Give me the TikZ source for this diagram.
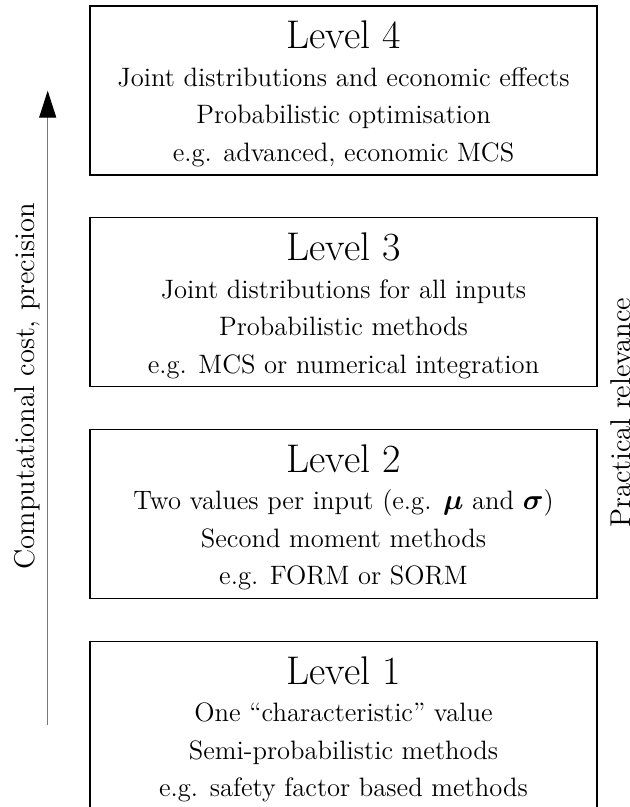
\documentclass[tikz,border=0pt]{standalone}
\usepackage{bm}
\usetikzlibrary{arrows.meta}
\definecolor{arrowgray}{RGB}{120,120,120}
\begin{document}
\begin{tikzpicture}[x=0.5pt,y=-0.5pt,
  levelbox/.style={draw=black, line width=0.6pt, minimum width=253.5pt, minimum height=84.5pt, inner sep=0pt},
  titletext/.style={anchor=base, font=\fontsize{20}{24}\selectfont, inner sep=0pt},
  bodytext/.style={anchor=base, font=\fontsize{13.3}{16}\selectfont, inner sep=0pt},
  sidetext/.style={rotate=90, font=\fontsize{14.3}{17}\selectfont, inner sep=0pt},
  axisarrow/.style={draw=arrowgray, line width=0.65pt, -{Triangle[length=13.5pt,width=8.5pt,color=black]}}]
\useasboundingbox (0,0) rectangle (630,807);

% Level 4
\node[levelbox] (b4) at (343.5,90.5) {};
\node[titletext] (t4) at (343.5,49) {Level 4};
\node[bodytext] (l4a) at (343.5,86.5) {Joint distributions and economic effects};
\node[bodytext] (l4b) at (343.5,124) {Probabilistic optimisation};
\node[bodytext] (l4c) at (343.5,161.5) {e.g. advanced, economic MCS};

% Level 3
\node[levelbox] (b3) at (343.5,302.2) {};
\node[titletext] (t3) at (343.5,260.7) {Level 3};
\node[bodytext] (l3a) at (343.5,298.2) {Joint distributions for all inputs};
\node[bodytext] (l3b) at (343.5,335.7) {Probabilistic methods};
\node[bodytext] (l3c) at (343.5,373.2) {e.g. MCS or numerical integration};

% Level 2
\node[levelbox] (b2) at (343.5,513.9) {};
\node[titletext] (t2) at (343.5,472.4) {Level 2};
\node[bodytext] (l2a) at (343.5,509.9) {Two values per input (e.g. $\bm{\mu}$ and $\bm{\sigma}$)};
\node[bodytext] (l2b) at (343.5,547.4) {Second moment methods};
\node[bodytext] (l2c) at (343.5,584.9) {e.g. FORM or SORM};

% Level 1
\node[levelbox] (b1) at (343.5,725.6) {};
\node[titletext] (t1) at (343.5,684.1) {Level 1};
\node[bodytext] (l1a) at (343.5,721.6) {One ``characteristic'' value};
\node[bodytext] (l1b) at (343.5,759.1) {Semi-probabilistic methods};
\node[bodytext] (l1c) at (343.5,796.6) {e.g. safety factor based methods};

% axis arrow
\coordinate (abot) at (47.7,725);
\coordinate (atop) at (47.7,90.7);
\draw[axisarrow] (abot) -- (atop);

% side labels
\node[sidetext, anchor=base east] (lefttxt) at (34,203) {Computational cost, precision};
\node[sidetext, anchor=base west] (righttxt) at (630,528) {Practical relevance};
\end{tikzpicture}
\end{document}
